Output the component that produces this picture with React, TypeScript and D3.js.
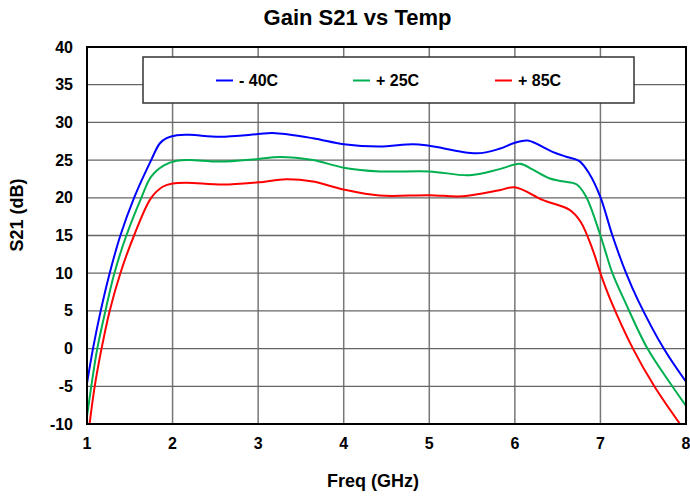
import React from "react";
import * as d3 from "d3";

// values
const blueFreq = [1, 1.07, 1.16, 1.265, 1.39, 1.55, 1.75, 1.85, 1.93, 2.05, 2.2, 2.55, 3, 3.17, 3.64, 4, 4.42, 4.81, 5, 5.55, 5.82, 6, 6.15, 6.44, 6.6, 6.75, 6.87, 7, 7.14, 7.3, 7.44, 7.74, 8];
const blueGain = [-4.6, 0, 5, 10, 15, 20, 25, 27.2, 27.9, 28.3, 28.35, 28.1, 28.45, 28.6, 27.9, 27.1, 26.8, 27.1, 26.9, 25.9, 26.5, 27.3, 27.6, 26.1, 25.45, 24.9, 23.2, 20.1, 15, 10, 6.4, 0, -4.4];

const greenFreq = [1, 1.05, 1.12, 1.215, 1.32, 1.46, 1.635, 1.75, 1.9, 2.05, 2.2, 2.55, 3, 3.25, 3.64, 4, 4.42, 5, 5.47, 5.82, 6.06, 6.2, 6.4, 6.55, 6.72, 6.83, 7, 7.14, 7.28, 7.55, 7.84, 8];
const greenGain = [-9, -5, 0, 5, 10, 15, 20, 22.8, 24.3, 24.9, 25.0, 24.8, 25.15, 25.4, 25.0, 24.0, 23.5, 23.5, 23.0, 23.8, 24.5, 23.8, 22.6, 22.2, 21.8, 20.2, 15, 10, 6.4, 0, -5, -7.6];

const redFreq = [1.03, 1.09, 1.17, 1.265, 1.39, 1.55, 1.75, 1.89, 2, 2.16, 2.59, 3, 3.33, 3.64, 4, 4.42, 5, 5.39, 5.82, 6, 6.33, 6.64, 6.77, 6.91, 7, 7.12, 7.38, 7.63, 7.93];
const redGain = [-10, -5, 0, 5, 10, 15, 20, 21.5, 21.9, 22.0, 21.75, 22.05, 22.45, 22.15, 21.1, 20.3, 20.35, 20.2, 21.0, 21.4, 19.7, 18.4, 16.8, 13.1, 10, 6.4, 0, -5, -10];

const seriesNames = ["- 40C", "+ 25C", "+ 85C"];
const seriesColors = ["#0000ff", "#00b050", "#ff0000"];
const xTicks = [1, 2, 3, 4, 5, 6, 7, 8];
const yTicks = [-10, -5, 0, 5, 10, 15, 20, 25, 30, 35, 40];

const W = 690;
const H = 496;
const margin = { top: 47, right: 4, bottom: 72, left: 87 };
const font = "'Liberation Sans', Arial, sans-serif";

export default function App() {
  const x = d3.scaleLinear().domain([1, 8]).range([margin.left, W - margin.right]);
  const y = d3.scaleLinear().domain([-10, 40]).range([H - margin.bottom, margin.top]);

  const series = [
    { name: seriesNames[0], color: seriesColors[0], pts: blueFreq.map((f, i) => [f, blueGain[i]]) },
    { name: seriesNames[1], color: seriesColors[1], pts: greenFreq.map((f, i) => [f, greenGain[i]]) },
    { name: seriesNames[2], color: seriesColors[2], pts: redFreq.map((f, i) => [f, redGain[i]]) },
  ];

  const line = d3.line<number[]>()
    .x(d => x(d[0]))
    .y(d => y(d[1]))
    .curve(d3.curveCatmullRom.alpha(0.5));

  const [x0, x1] = x.range();
  const [y1, y0] = y.range();

  // legend layout
  const legend = { x: 143, y: 57, w: 491, h: 46 };
  const legendItemX = [216, 353, 495];

  return (
    <svg width={W} height={H} style={{ position: "absolute", left: 0, top: 0, background: "#fff" }} fontFamily={font}>
      <defs>
        <clipPath id="plot">
          <rect x={x0} y={y0} width={x1 - x0} height={y1 - y0} />
        </clipPath>
      </defs>

      <text x={357.5} y={25} textAnchor="middle" fontSize={22} fontWeight="bold" fill="#000">Gain S21 vs Temp</text>

      {/* grid */}
      {xTicks.slice(1, -1).map(t => (
        <line key={"gx" + t} x1={x(t)} x2={x(t)} y1={y0} y2={y1} stroke="#777" strokeWidth={1.5} />
      ))}
      {yTicks.slice(1, -1).map(t => (
        <line key={"gy" + t} x1={x0} x2={x1} y1={y(t)} y2={y(t)} stroke="#666" strokeWidth={1.3} />
      ))}

      {/* legend */}
      <rect x={legend.x} y={legend.y} width={legend.w} height={legend.h} fill="#fff" stroke="#333" strokeWidth={1.5} />
      {series.map((s, i) => (
        <g key={s.name}>
          <line x1={legendItemX[i]} x2={legendItemX[i] + 17} y1={80.5} y2={80.5} stroke={s.color} strokeWidth={2} />
          <text x={legendItemX[i] + 23} y={86} fontSize={16} fontWeight="bold" fill="#000">{s.name}</text>
        </g>
      ))}

      {/* curves */}
      <g clipPath="url(#plot)">
        {series.map(s => (
          <path key={s.name} d={line(s.pts) || ""} fill="none" stroke={s.color} strokeWidth={2} />
        ))}
      </g>

      {/* frame */}
      <rect x={x0} y={y0} width={x1 - x0} height={y1 - y0} fill="none" stroke="#000" strokeWidth={2} />

      {/* tick labels */}
      {xTicks.map(t => (
        <text key={"tx" + t} x={x(t)} y={449} textAnchor="middle" fontSize={16} fontWeight="bold" fill="#000">{t}</text>
      ))}
      {yTicks.map(t => (
        <text key={"ty" + t} x={73} y={y(t) + 5.5} textAnchor="end" fontSize={16} fontWeight="bold" fill="#000">{t}</text>
      ))}

      <text x={373} y={487} textAnchor="middle" fontSize={18} fontWeight="bold" fill="#000">Freq (GHz)</text>
      <text transform="translate(23,215) rotate(-90)" textAnchor="middle" fontSize={18} fontWeight="bold" fill="#000">S21 (dB)</text>
    </svg>
  );
}
